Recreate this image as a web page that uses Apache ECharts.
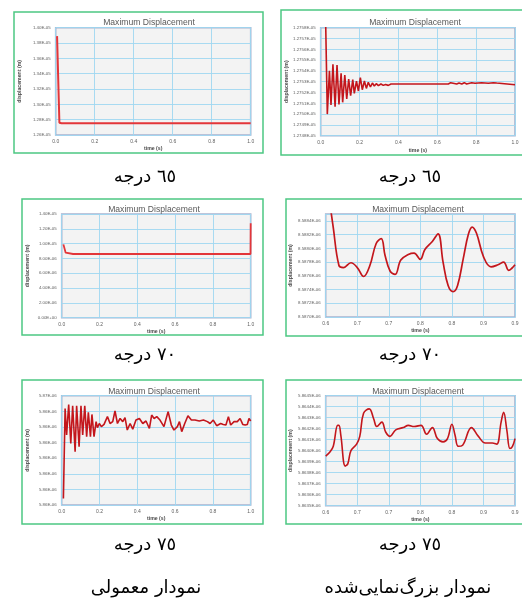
<!DOCTYPE html>
<html><head><meta charset="utf-8">
<script src="https://cdn.jsdelivr.net/npm/echarts@6/dist/echarts.min.js"></script>
<style>html,body{margin:0;padding:0;background:#fff}#c{width:522px;height:605px}</style>
</head><body><div id="c"></div>
<script>
// All displacement values are in micrometres (1 µm = 1E-06 m); time in seconds.

// 65° — normal view
const time65 = [0.007, 0.019, 0.03, 1.0];
const disp65 = [13.89, 12.76, 12.753, 12.753];

// 65° — zoomed view
const time65Zoom = [0.024,0.034,0.045,0.053,0.063,0.074,0.084,0.094,0.105,0.113,
  0.124,0.134,0.144,0.154,0.165,0.173,0.184,0.194,0.204,0.214,
  0.225,0.235,0.245,0.256,0.266,0.276,0.286,0.297,0.31,0.322,
  0.334,0.348,0.362,0.657,0.669,0.679,0.7,0.712,0.726,0.739,
  0.751,0.777,0.794,0.828,0.863,0.889,0.906,0.914,1.0];
const disp65Zoom = [12.7600,12.7500,12.75402,12.75084,12.75461,12.75069,12.75454,12.7509,12.75377,12.75109,
  12.75362,12.7514,12.75325,12.7517,12.75319,12.75192,12.75306,12.75214,12.75337,12.75226,
  12.75306,12.75238,12.75294,12.75251,12.75288,12.7526,12.75282,12.75263,12.75279,12.75266,
  12.75275,12.75266,12.75279,12.75279,12.75291,12.75275,12.75279,12.75288,12.75279,12.75291,
  12.75279,12.75291,12.75285,12.75291,12.75285,12.75291,12.75288,12.75275,12.75272];

// 70° — normal view
const time70 = [0.009, 0.013, 0.021, 0.03, 0.06, 0.999, 1.0];
const disp70 = [9.9, 9.8, 8.78, 8.63, 8.6, 8.6, 12.75];

// 70° — zoomed view
const time70Zoom = [0.600,0.612,0.621,0.628,0.640,0.650,0.660,0.670,0.680,0.688,
  0.694,0.702,0.710,0.719,0.731,0.740,0.750,0.757,0.769,0.778,
  0.786,0.794,0.802,0.809,0.818,0.826,0.832,0.839,0.850,0.862,
  0.873,0.882,0.890,0.895,0.900];
const disp70Zoom = [8.5891,8.5883,8.58775,8.58772,8.58779,8.58772,8.58759,8.58775,8.58807,8.58814,
  8.5879,8.58767,8.58762,8.58783,8.58791,8.58793,8.58784,8.58798,8.5881,8.58821,
  8.5878,8.58746,8.58737,8.58746,8.58785,8.5882,8.58831,8.58822,8.58788,8.58773,
  8.58776,8.5878,8.58768,8.58771,8.58776];

// 75° — normal view
const time75 = [0.009,0.018,0.026,0.037,0.048,0.058,0.071,0.079,0.092,0.102,
  0.111,0.122,0.132,0.141,0.152,0.160,0.171,0.182,0.189,0.199,
  0.210,0.224,0.242,0.256,0.270,0.282,0.295,0.309,0.323,0.335,
  0.347,0.362,0.376,0.393,0.411,0.429,0.446,0.464,0.476,0.489,
  0.503,0.520,0.541,0.563,0.580,0.594,0.612,0.623,0.635,0.651,
  0.668,0.686,0.705,0.728,0.750,0.771,0.785,0.802,0.820,0.841,
  0.855,0.869,0.882,0.894,0.912,0.929,0.944,0.958,0.971,0.982,
  0.991,1.000];
const disp75 = [5.86171,5.86459,5.86374,5.86472,5.86347,5.86468,5.86321,5.86468,5.86337,5.86468,
  5.86374,5.86468,5.86369,5.86447,5.86369,5.86440,5.86369,5.86417,5.86398,5.86411,
  5.86401,5.86408,5.86433,5.86411,5.86417,5.86451,5.86411,5.86427,5.86417,5.8643,
  5.8639,5.86411,5.86393,5.86422,5.86427,5.86411,5.86419,5.86395,5.86438,5.86427,
  5.86433,5.86422,5.86401,5.86449,5.86406,5.8639,5.86401,5.86417,5.86385,5.86411,
  5.86436,5.86422,5.86422,5.86419,5.86422,5.86417,5.86411,5.86422,5.86404,5.86411,
  5.86408,5.86406,5.86433,5.86406,5.86417,5.86417,5.86427,5.86408,5.86406,5.86408,
  5.86427,5.86419];

// 75° — zoomed view
const time75Zoom = [0.600,0.607,0.612,0.619,0.621,0.624,0.631,0.635,0.640,0.649,
  0.654,0.660,0.669,0.676,0.681,0.689,0.695,0.702,0.711,0.723,
  0.731,0.740,0.751,0.760,0.769,0.777,0.786,0.793,0.800,0.805,
  0.810,0.817,0.831,0.842,0.853,0.864,0.871,0.878,0.882,0.887,
  0.892,0.896,0.900];
const disp75Zoom = [5.86395,5.86399,5.86404,5.86423,5.86423,5.86414,5.86386,5.86388,5.864,5.86406,
  5.86413,5.86434,5.86438,5.86429,5.86422,5.86426,5.86417,5.86413,5.86419,5.86421,
  5.86423,5.86422,5.86423,5.86415,5.86421,5.86411,5.86408,5.86411,5.86424,5.86414,
  5.86404,5.86405,5.86421,5.86413,5.86407,5.86407,5.86406,5.86426,5.86435,5.86419,
  5.86402,5.86404,5.86411];

// Tick labels (bottom to top / left to right)
const xTicksNormal = ['0.0','0.2','0.4','0.6','0.8','1.0'];
const xTicksZoom = ['0.6','0.7','0.7','0.8','0.8','0.9','0.9'];
const yTicks65 = ['1.26E-05','1.28E-05','1.30E-05','1.32E-05','1.34E-05','1.36E-05','1.38E-05','1.40E-05'];
const yTicks65Zoom = ['1.2748E-05','1.2749E-05','1.2750E-05','1.2751E-05','1.2752E-05','1.2753E-05','1.2754E-05','1.2755E-05','1.2756E-05','1.2757E-05','1.2758E-05'];
const yTicks70 = ['0.00E+00','2.00E-06','4.00E-06','6.00E-06','8.00E-06','1.00E-05','1.20E-05','1.40E-05'];
const yTicks70Zoom = ['8.5870E-06','8.5872E-06','8.5874E-06','8.5876E-06','8.5878E-06','8.5880E-06','8.5882E-06','8.5884E-06'];
const yTicks75 = ['5.86E-06','5.86E-06','5.86E-06','5.86E-06','5.86E-06','5.86E-06','5.86E-06','5.87E-06'];
const yTicks75Zoom = ['5.8635E-06','5.8636E-06','5.8637E-06','5.8638E-06','5.8639E-06','5.8640E-06','5.8641E-06','5.8642E-06','5.8643E-06','5.8644E-06','5.8645E-06'];

const chartTitle = 'Maximum Displacement';
const xName = 'time (s)';
const yName = 'displacement (m)';
const captions = ['٦٥ درجه', '٧٠ درجه', '٧٥ درجه'];
const footerLeft = 'نمودار معمولی';
const footerRight = 'نمودار بزرگ‌نمایی‌شده';

const xNormal = {min: 0, max: 1, interval: 0.2, labels: xTicksNormal};
const xZoom = {min: 0.6, max: 0.9, interval: 0.05, labels: xTicksZoom};

const panels = [
  {grid:{left:55.7, top:27.7, width:195, height:107.3}, x:xNormal,
   y:{min:12.6, max:14.0, interval:0.2, labels:yTicks65}, t:time65, d:disp65,
   color:'#e3363a', lw:2, smooth:false, tx:144, ty:19, yGap:34, xGap:11.5},
  {grid:{left:320.7, top:27.7, width:194.3, height:108}, x:xNormal,
   y:{min:12.748, max:12.758, interval:0.001, labels:yTicks65Zoom}, t:time65Zoom, d:disp65Zoom,
   color:'#c3161c', lw:1.6, smooth:false, tx:410, ty:19, yGap:31, xGap:12},
  {grid:{left:61.7, top:214, width:189, height:103.7}, x:xNormal,
   y:{min:0, max:14, interval:2, labels:yTicks70}, t:time70, d:disp70,
   color:'#e3363a', lw:1.8, smooth:false, tx:149, ty:206, yGap:32, xGap:11},
  {grid:{left:325.7, top:214, width:189.3, height:103}, x:xZoom,
   y:{min:8.5870, max:8.5885, interval:0.0002, labels:yTicks70Zoom}, t:time70Zoom, d:disp70Zoom,
   color:'#c3161c', lw:1.7, smooth:0.4, tx:413, ty:206, yGap:33, xGap:11.5},
  {grid:{left:61.7, top:395.7, width:189, height:109.3}, x:xNormal,
   y:{min:5.8615, max:5.8650, interval:0.0005, labels:yTicks75}, t:time75, d:disp75,
   color:'#c3161c', lw:1.6, smooth:false, tx:149, ty:388, yGap:32, xGap:11.5},
  {grid:{left:325.7, top:395.7, width:189.3, height:110}, x:xZoom,
   y:{min:5.8635, max:5.8645, interval:0.0001, labels:yTicks75Zoom}, t:time75Zoom, d:disp75Zoom,
   color:'#c3161c', lw:1.6, smooth:0.4, tx:413, ty:388, yGap:33, xGap:11}
];

function labelFor(ax) {
  return function (v) {
    const k = Math.round((v - ax.min) / ax.interval);
    if (Math.abs(v - (ax.min + k * ax.interval)) > ax.interval * 1e-3) return '';
    return ax.labels[k] !== undefined ? ax.labels[k] : '';
  };
}

const gridColor = '#9fd7f0';
const labelColor = '#5e5e5e';

const option = {
  animation: false,
  backgroundColor: '#ffffff',
  title: panels.map(p => ({
    text: chartTitle, left: p.tx, top: p.ty - 5.5, textAlign: 'center',
    textStyle: {fontSize: 8.6, fontWeight: 'normal', color: '#595959', fontFamily: 'Liberation Sans'}
  })),
  grid: panels.map(p => Object.assign({show: true, backgroundColor: '#f3f3f3', borderColor: '#a9b3cf', borderWidth: 1.6, containLabel: false}, p.grid)),
  xAxis: panels.map((p, i) => ({
    type: 'value', gridIndex: i, min: p.x.min, max: p.x.max, interval: p.x.interval,
    name: xName, nameLocation: 'middle', nameGap: p.xGap,
    nameTextStyle: {fontSize: 5.2, fontWeight: 'bold', color: '#4a4a4a', fontFamily: 'Liberation Sans'},
    axisLine: {show: false}, axisTick: {show: false},
    axisLabel: {fontSize: 5, color: labelColor, margin: 4.5, fontFamily: 'Liberation Sans', formatter: labelFor(p.x), showMinLabel: true, showMaxLabel: true},
    splitLine: {show: true, lineStyle: {color: gridColor, width: 0.9}}
  })),
  yAxis: panels.map((p, i) => ({
    type: 'value', gridIndex: i, min: p.y.min, max: p.y.max, interval: p.y.interval,
    name: yName, nameLocation: 'middle', nameGap: p.yGap,
    nameTextStyle: {fontSize: 5.2, fontWeight: 'bold', color: '#4a4a4a', fontFamily: 'Liberation Sans'},
    axisLine: {show: false}, axisTick: {show: false},
    axisLabel: {fontSize: 4.4, color: labelColor, margin: 5, fontFamily: 'Liberation Sans', formatter: labelFor(p.y), showMinLabel: true, showMaxLabel: true},
    splitLine: {show: true, lineStyle: {color: gridColor, width: 0.9}}
  })),
  series: panels.map((p, i) => ({
    type: 'line', xAxisIndex: i, yAxisIndex: i, showSymbol: false, symbol: 'none',
    smooth: p.smooth, clip: true,
    lineStyle: {color: p.color, width: p.lw},
    data: p.t.map((t, j) => [t, p.d[j]])
  })),
  graphic: [
    ...[[14,12,249,141],[281,10,243,145],[22,199,241,136],[286,199,238,137],[22,380,241,144],[286,380,238,144]].map(r => ({
      type: 'rect', shape: {x: r[0], y: r[1], width: r[2], height: r[3]},
      style: {fill: 'none', stroke: '#4cc882', lineWidth: 1.5}, silent: true
    })),
    ...[177, 355, 545].flatMap((y, i) => [145, 410].map(x => ({
      type: 'text', x: x, y: y,
      style: {text: captions[i], fontSize: 18, fontFamily: 'DejaVu Sans', fill: '#000', align: 'center', verticalAlign: 'middle'}
    }))),
    {type: 'text', x: 146, y: 588, style: {text: footerLeft, fontSize: 18, fontFamily: 'DejaVu Sans', fill: '#000', align: 'center', verticalAlign: 'middle'}},
    {type: 'text', x: 408, y: 588, style: {text: footerRight, fontSize: 18, fontFamily: 'DejaVu Sans', fill: '#000', align: 'center', verticalAlign: 'middle'}}
  ]
};

const chart = echarts.init(document.getElementById('c'), null, {renderer: 'canvas'});
chart.setOption(option);
</script>
</body></html>
